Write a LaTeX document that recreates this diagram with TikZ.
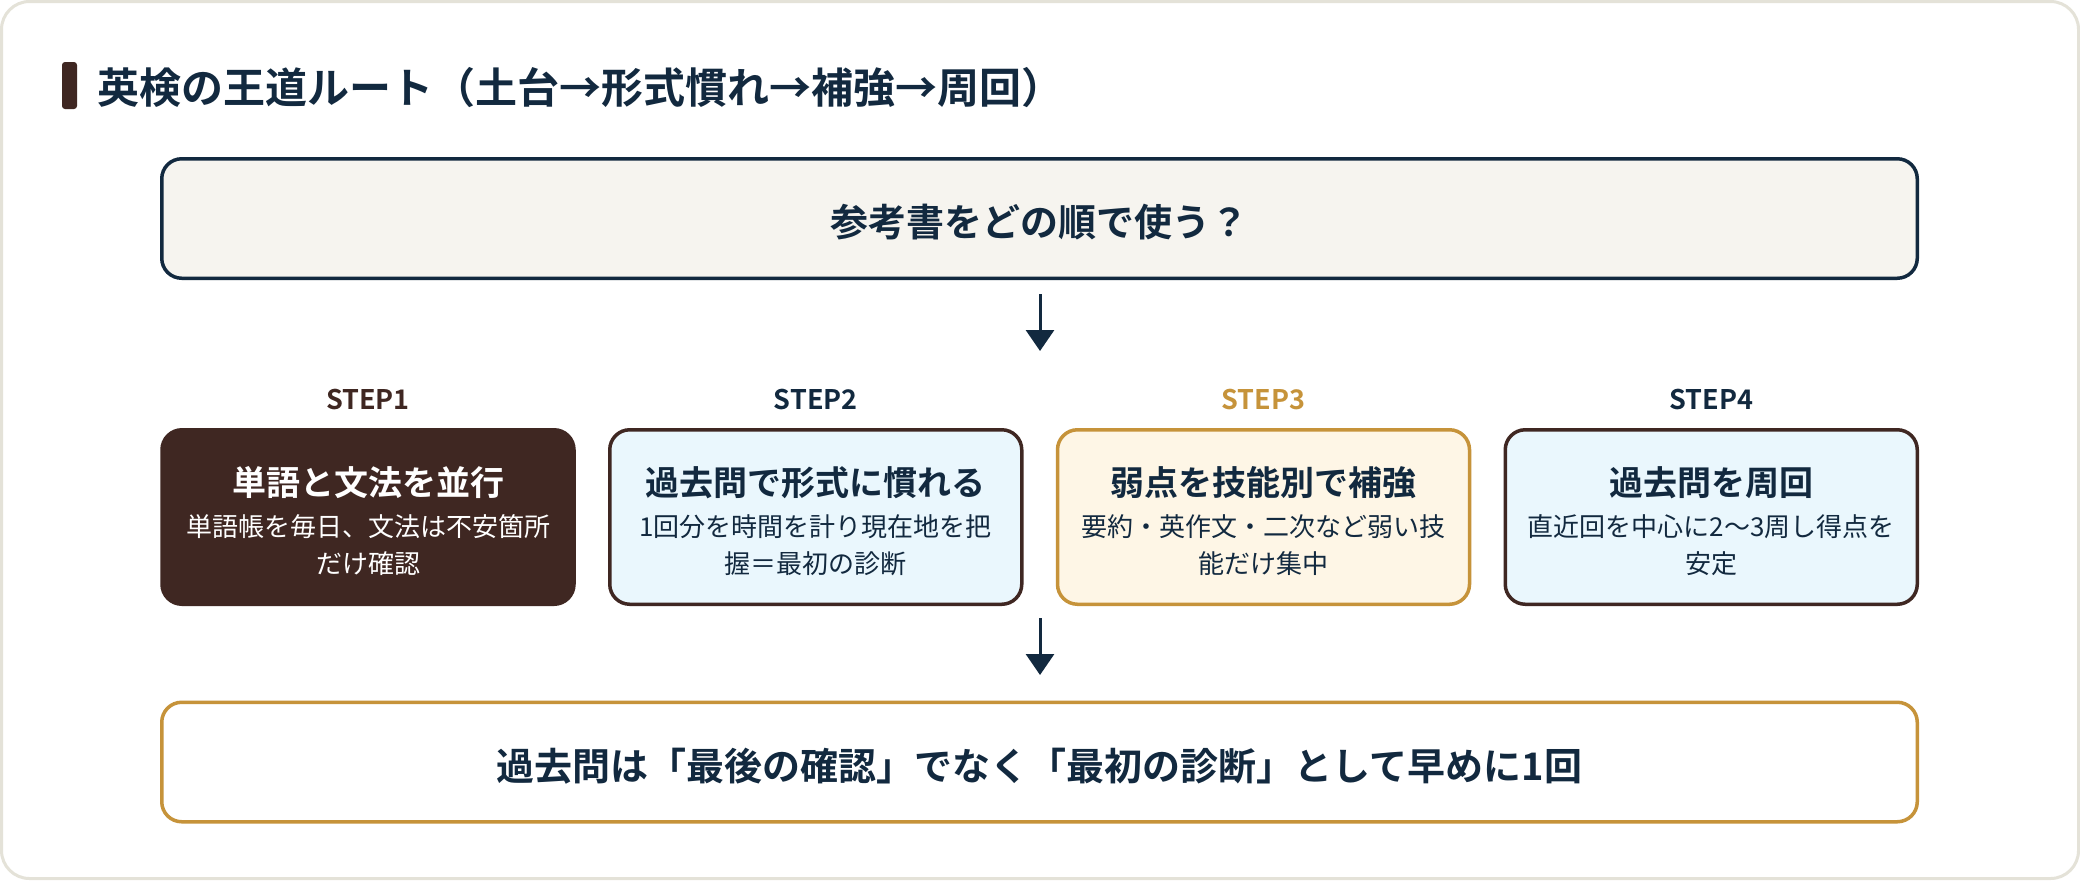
\documentclass[tikz,border=0pt]{standalone}
\usepackage{fontspec}
\setmainfont{Noto Sans CJK JP}[BoldFont={Noto Sans CJK JP Bold}]
\usetikzlibrary{arrows.meta}
\definecolor{navy}{HTML}{12293F}
\definecolor{dbrown}{HTML}{3F2722}
\definecolor{gold}{HTML}{C6933A}
\definecolor{lblue}{HTML}{EAF7FD}
\definecolor{cream}{HTML}{FEF6E6}
\definecolor{topfill}{HTML}{F6F4EF}
\definecolor{cardline}{HTML}{E4E2D8}
\begin{document}
\begin{tikzpicture}[x=0.5pt,y=-0.5pt,
  bigbox/.style={draw, line width=1.75pt, rounded corners=10pt, minimum width=877.75pt, minimum height=59.75pt, inner sep=0pt},
  stepbox/.style={draw, line width=1.75pt, rounded corners=10pt, minimum width=206pt, minimum height=87.25pt, inner sep=0pt},
  steplabel/.style={inner sep=0pt, font=\bfseries\fontsize{13.5}{16}\selectfont},
  steptitle/.style={inner sep=0pt, font=\bfseries\fontsize{17}{20}\selectfont, text=navy},
  stepdesc/.style={inner sep=0pt, align=center, font=\fontsize{13}{18.5}\selectfont, text=navy},
  bigtext/.style={inner sep=0pt, font=\bfseries\fontsize{19}{23}\selectfont, text=navy},
  flowarrow/.style={draw=navy, line width=1.5pt, -{Triangle[length=10.5pt,width=14pt]}}
]
\useasboundingbox (0,0) rectangle (2080,880);
\fill[white] (0,0) rectangle (2080,880);
\draw[cardline, line width=1.5pt, rounded corners=14pt, fill=white] (1.5,1.5) rectangle (2078.5,878.5);

% title
\node[fill=dbrown, rounded corners=1.5pt, minimum width=7.5pt, minimum height=23.5pt, inner sep=0pt] (bar) at (69.5,85.5) {};
\node[anchor=west, inner sep=0pt, font=\bfseries\fontsize{21}{25}\selectfont, text=navy] (title) at (97,88) {英検の王道ルート（土台→形式慣れ→補強→周回）};

% question box
\node[bigbox, draw=navy, fill=topfill] (q) at (1039.5,218.5) {};
\node[bigtext] (qt) at (1039.5,222) {参考書をどの順で使う？};

% steps
\node[stepbox, draw=dbrown, fill=dbrown] (s1) at (368,517) {};
\node[stepbox, draw=dbrown, fill=lblue] (s2) at (815.75,517) {};
\node[stepbox, draw=gold, fill=cream] (s3) at (1263.5,517) {};
\node[stepbox, draw=dbrown, fill=lblue] (s4) at (1711.25,517) {};

\node[steplabel, text=dbrown] (l1) at (368,399) {STEP1};
\node[steplabel, text=navy] (l2) at (815.75,399) {STEP2};
\node[steplabel, text=gold] (l3) at (1263.5,399) {STEP3};
\node[steplabel, text=navy] (l4) at (1711.25,399) {STEP4};

\node[steptitle, text=white] (t1) at (368,483) {単語と文法を並行};
\node[stepdesc, text=white] (d1) at (368,545) {単語帳を毎日、文法は不安箇所\\だけ確認};

\node[steptitle] (t2) at (815.75,483) {過去問で形式に慣れる};
\node[stepdesc] (d2) at (815.75,545) {1回分を時間を計り現在地を把\\握＝最初の診断};

\node[steptitle] (t3) at (1263.5,483) {弱点を技能別で補強};
\node[stepdesc] (d3) at (1263.5,545) {要約・英作文・二次など弱い技\\能だけ集中};

\node[steptitle] (t4) at (1711.25,483) {過去問を周回};
\node[stepdesc] (d4) at (1711.25,545) {直近回を中心に2〜3周し得点を\\安定};

% bottom box
\node[bigbox, draw=gold, fill=white] (b) at (1039.5,762) {};
\node[bigtext] (bt) at (1039.5,766) {過去問は「最後の確認」でなく「最初の診断」として早めに1回};

% arrows
\coordinate (a1s) at (1040,294);
\coordinate (a1e) at (1040,351);
\coordinate (a2s) at (1040,618);
\coordinate (a2e) at (1040,675);
\draw[flowarrow] (a1s) -- (a1e);
\draw[flowarrow] (a2s) -- (a2e);
\end{tikzpicture}
\end{document}
